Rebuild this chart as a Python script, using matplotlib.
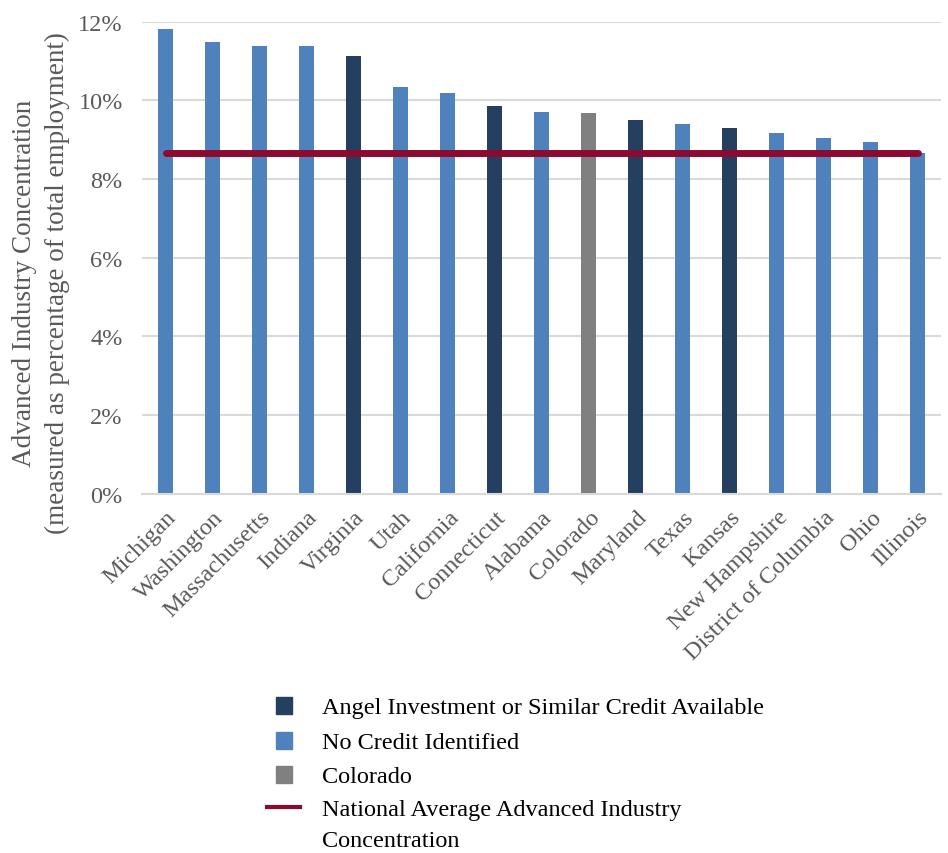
import matplotlib
matplotlib.use("Agg")
import matplotlib.pyplot as plt
from matplotlib.patches import Rectangle
from matplotlib.lines import Line2D
from matplotlib.ticker import FuncFormatter

states = ["Michigan", "Washington", "Massachusetts", "Indiana", "Virginia", "Utah",
          "California", "Connecticut", "Alabama", "Colorado", "Maryland", "Texas",
          "Kansas", "New Hampshire", "District of Columbia", "Ohio", "Illinois"]
values = [11.82, 11.49, 11.37, 11.37, 11.12, 10.35, 10.19, 9.85, 9.71, 9.69, 9.50,
          9.39, 9.29, 9.18, 9.05, 8.93, 8.67]
groups = ["none", "none", "none", "none", "angel", "none", "none", "angel", "none",
          "colorado", "angel", "none", "angel", "none", "none", "none", "none"]
national_avg = 8.67

legend_labels = ["Angel Investment or Similar Credit Available",
                 "No Credit Identified",
                 "Colorado",
                 "National Average Advanced Industry\nConcentration"]

colors = {"angel": "#243F60", "none": "#4F81BD", "colorado": "#808080"}
line_color = "#8B0A30"
gray_text = "#595959"

plt.rcParams['font.family'] = ['Liberation Serif', 'DejaVu Serif']

W, H = 948, 854
fig = plt.figure(figsize=(W / 100, H / 100), dpi=100)
ax = fig.add_axes([0.150, 0.4205, 0.843, 0.553])

x = list(range(len(states)))
ax.bar(x, values, width=0.32, color=[colors[g] for g in groups], zorder=2)
ax.plot([x[0], x[-1]], [national_avg, national_avg], color=line_color, lw=5,
        solid_capstyle='round', zorder=3)

ax.set_xlim(-0.5, len(states) - 0.5)
ax.set_ylim(0, 12)
ax.set_yticks([0, 2, 4, 6, 8, 10, 12])
ax.yaxis.set_major_formatter(FuncFormatter(lambda v, p: f"{int(v)}%"))
ax.grid(axis='y', color='#D9D9D9', lw=1.5, zorder=0)
ax.set_axisbelow(True)
for s in ['top', 'right', 'left']:
    ax.spines[s].set_visible(False)
ax.spines['bottom'].set_color('#D9D9D9')
ax.spines['bottom'].set_linewidth(1.5)
ax.tick_params(axis='both', length=0, colors=gray_text, labelsize=17.5)
ax.tick_params(axis='y', pad=14)
ax.set_xticks(x)
ax.set_xticklabels(states, rotation=45, ha='right', va='top', rotation_mode='anchor')
ax.tick_params(axis='x', pad=9)

# y-axis title
fig.text(41 / W, 1 - 283 / H,
         "Advanced Industry Concentration\n(measured as percentage of total employment)",
         rotation=90, ha='center', va='center', color=gray_text, fontsize=19.5,
         linespacing=1.38)

# legend (drawn manually to match spacing)
def fx(px):
    return px / W

def fy(py):
    return 1 - py / H

row_y = [706, 741, 775, 808]
extra_line_gap = 31
sq_w, sq_h = 16, 17
legend_colors = [colors["angel"], colors["none"], colors["colorado"]]
for i, c in enumerate(legend_colors):
    fig.patches.append(Rectangle((fx(276), fy(row_y[i] + sq_h / 2)), sq_w / W, sq_h / H,
                                 transform=fig.transFigure, color=c, figure=fig))
fig.lines.append(Line2D([fx(267), fx(300)], [fy(row_y[3]), fy(row_y[3])],
                        transform=fig.transFigure, color=line_color, lw=3, figure=fig))
for i, lab in enumerate(legend_labels):
    for j, part in enumerate(lab.split("\n")):
        fig.text(fx(322), fy(row_y[i] + 8 + j * extra_line_gap), part, ha='left',
                 va='baseline', fontsize=17.5, color='black')

fig.savefig("out.png", dpi=100)
